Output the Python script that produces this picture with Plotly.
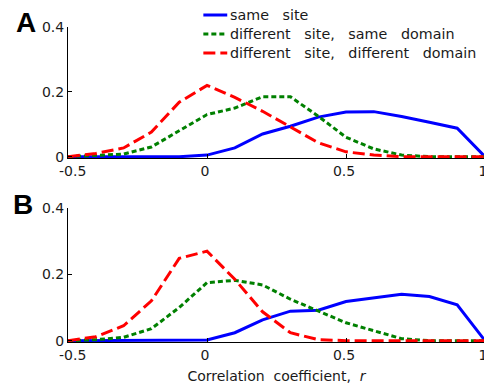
import plotly.graph_objects as go

# ---- data ----
r_bins = [-0.5, -0.4, -0.3, -0.2, -0.1, 0.0, 0.1, 0.2, 0.3, 0.4, 0.5, 0.6, 0.7, 0.8, 0.9, 1.0]

same_site_A = [0, 0, 0, 0, 0, 0.005, 0.027, 0.07, 0.094, 0.122, 0.138, 0.139, 0.124, 0.106, 0.088, 0]
diff_site_same_dom_A = [0, 0.003, 0.008, 0.03, 0.08, 0.13, 0.15, 0.185, 0.185, 0.125, 0.06, 0.024, 0.005, 0, 0, 0]
diff_site_diff_dom_A = [0, 0.01, 0.027, 0.076, 0.168, 0.22, 0.183, 0.14, 0.092, 0.043, 0.015, 0.005, 0, 0, 0, 0]

same_site_B = [0, 0, 0, 0, 0, 0.002, 0.024, 0.063, 0.089, 0.092, 0.118, 0.128, 0.14, 0.133, 0.108, 0]
diff_site_same_dom_B = [0, 0.003, 0.01, 0.036, 0.1, 0.175, 0.182, 0.168, 0.125, 0.09, 0.054, 0.03, 0.006, 0, 0, 0]
diff_site_diff_dom_B = [0, 0.012, 0.045, 0.12, 0.248, 0.27, 0.185, 0.087, 0.024, 0.003, 0, 0, 0, 0, 0, 0]

series_names = ["same site", "different site, same domain", "different site, different domain"]
series_colors = ["#0000ff", "#008000", "#ff0000"]
series_dash = ["solid", "5px,3px", "12px,5px"]

x_tickvals = [-0.5, 0, 0.5, 1]
x_ticktext = ["\u00a0\u00a0\u00a0-0.5", "0", "0.5", "1"]
y_tickvals = [0, 0.2, 0.4]
y_ticktext = ["0", "0.2", "0.4"]
panel_labels = ["A", "B"]
x_title = "Correlation\u00a0\u00a0coefficient,\u00a0\u00a0<i>r</i>"

FONT = "DejaVu Sans, Liberation Sans, Arial, sans-serif"

fig = go.Figure()

panels = [
    ("x", "y", [same_site_A, diff_site_same_dom_A, diff_site_diff_dom_A]),
    ("x2", "y2", [same_site_B, diff_site_same_dom_B, diff_site_diff_dom_B]),
]
for xa, ya, series in panels:
    for vals, name, col, dash in zip(series, series_names, series_colors, series_dash):
        fig.add_trace(go.Scatter(
            x=r_bins, y=vals, mode="lines", name=name, showlegend=False,
            xaxis=xa, yaxis=ya,
            line=dict(color=col, width=3, dash=dash),
        ))

axis_common = dict(showline=True, linecolor="black", linewidth=1, ticks="inside",
                   ticklen=4, tickcolor="black", showgrid=False, zeroline=False,
                   tickfont=dict(family=FONT, size=14, color="#1a1a1a"), mirror=False)

# page body has an 8px margin, so the figure is drawn 8px smaller and offset
OFF = 8
W, H = 492 - OFF, 389 - OFF
# target plot area in window px: x 68..487 ; panel A y 27..158 ; panel B y 208..342
L = 68 - OFF
R = W - (487 - OFF)
T = 27 - OFF
B = H - (342 - OFF)
ph = H - T - B
domA = [(342 - 158) / ph, 1.0]
domB = [0.0, (342 - 208) / ph]

fig.update_layout(
    width=W, height=H,
    margin=dict(l=L, r=R, t=T, b=B, pad=0),
    paper_bgcolor="white", plot_bgcolor="white",
    showlegend=False,
    font=dict(family=FONT, size=14, color="#1a1a1a"),
    xaxis=dict(axis_common, domain=[0, 1], range=[-0.5, 1.0], tickvals=x_tickvals, ticktext=x_ticktext,
               anchor="y", ticklabelshift=-2),
    yaxis=dict(axis_common, domain=domA, range=[-0.004, 0.4], tickvals=y_tickvals, ticktext=y_ticktext, anchor="x"),
    xaxis2=dict(axis_common, domain=[0, 1], range=[-0.5, 1.0], tickvals=x_tickvals, ticktext=x_ticktext,
                anchor="y2", ticklabelshift=-2,
                title=dict(text=x_title, font=dict(family=FONT, size=14, color="#1a1a1a"), standoff=9)),
    yaxis2=dict(axis_common, domain=domB, range=[-0.004, 0.4], tickvals=y_tickvals, ticktext=y_ticktext, anchor="x2"),
)

# window px -> paper coords
def px_to_paper(px, py):
    return (px - OFF - L) / (W - L - R), (H - B - (py - OFF)) / ph

for lab, (cx, cy) in zip(panel_labels, [(26, 22), (23, 204)]):
    ax_, ay_ = px_to_paper(cx, cy)
    fig.add_annotation(x=ax_, y=ay_, xref="paper", yref="paper", text=f"<b>{lab}</b>",
                       showarrow=False, xanchor="center", yanchor="middle",
                       font=dict(family="Liberation Sans, Arial, sans-serif", size=28, color="black"))

# legend (line samples + text)
legend_rows = [15, 34, 53]
for name, col, dash, py in zip(series_names, series_colors, series_dash, legend_rows):
    x0, y0 = px_to_paper(204, py)
    x1, _ = px_to_paper(228, py)
    fig.add_shape(type="line", xref="paper", yref="paper", x0=x0, x1=x1, y0=y0, y1=y0,
                  line=dict(color=col, width=3, dash=dash))
    tx, _ = px_to_paper(229, py)
    fig.add_annotation(x=tx, y=y0, xref="paper", yref="paper",
                       text=name.replace(" ", "\u00a0\u00a0\u00a0"),
                       showarrow=False, xanchor="left", yanchor="middle",
                       font=dict(family=FONT, size=14.3, color="#1a1a1a"))

fig.write_html("out.html")
